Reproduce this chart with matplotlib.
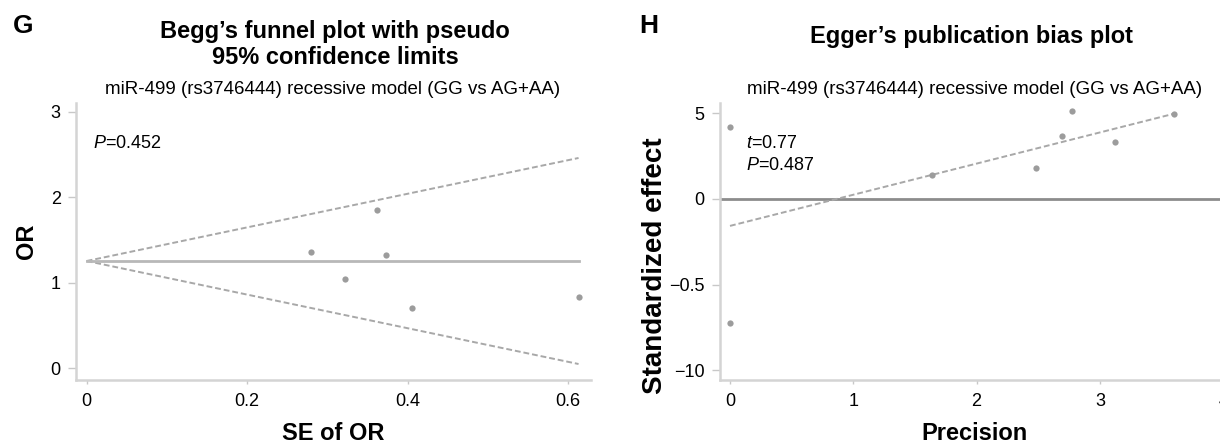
import matplotlib
matplotlib.use("Agg")
import matplotlib.pyplot as plt

plt.rcParams['font.family'] = ['Liberation Sans', 'DejaVu Sans']
plt.rcParams['mathtext.fontset'] = 'custom'
plt.rcParams['mathtext.rm'] = 'Liberation Sans'
plt.rcParams['mathtext.it'] = 'Liberation Sans:italic'

# Begg's funnel plot data
begg_se = [0.279, 0.322, 0.362, 0.373, 0.406, 0.613]
begg_or = [1.36, 1.04, 1.85, 1.33, 0.71, 0.83]
pooled_or = 1.255
limit_se = [0.0, 0.613]
upper_limit = [1.255, 2.46]
lower_limit = [1.255, 0.05]
begg_xticks = [0, 0.2, 0.4, 0.6]
begg_xlabels = ['0', '0.2', '0.4', '0.6']
begg_yticks = [0, 1, 2, 3]

# Egger's plot data
precision = [0.0, 0.0, 1.636, 2.479, 2.695, 2.771, 3.122, 3.601]
std_effect = [4.19, -7.26, 1.40, 1.81, 3.64, 5.14, 3.29, 4.97]
fit_x = [0.0, 3.601]
fit_y = [-1.58, 4.965]
egger_xticks = [0, 1, 2, 3, 4]
egger_yticks = [-10, -5, 0, 5]
egger_ylabels = ['\u221210', '\u22120.5', '0', '5']

subtitle = 'miR-499 (rs3746444) recessive model (GG vs AG+AA)'
W, H = 1220, 443

fig = plt.figure(figsize=(W / 100, H / 100), dpi=100)


def style_axes(ax):
    for s in ['top', 'right']:
        ax.spines[s].set_visible(False)
    for s in ['left', 'bottom']:
        ax.spines[s].set_color('#d4d4d4')
        ax.spines[s].set_linewidth(1.8)
    ax.tick_params(axis='y', length=6, width=1, color='#c8c8c8', pad=5, labelsize=13)
    ax.tick_params(axis='x', length=3, width=1, color='#c8c8c8', pad=6, labelsize=13)


# ---- G: Begg's funnel plot
ax1 = fig.add_axes([76 / W, 1 - 380 / H, 515 / W, 277 / H])
style_axes(ax1)
ax1.plot(limit_se, upper_limit, color='#a8a8a8', lw=1.4, ls=(0, (3, 1.5)))
ax1.plot(limit_se, lower_limit, color='#a8a8a8', lw=1.4, ls=(0, (3, 1.5)))
ax1.plot(limit_se, [pooled_or, pooled_or], color='#b8b8b8', lw=2)
ax1.plot(begg_se, begg_or, 'o', color='#9c9c9c', ms=4.5, mec='none')
ax1.set_xlim(-0.0133, 0.6285)
ax1.set_ylim(-0.137, 3.103)
ax1.set_xticks(begg_xticks)
ax1.set_xticklabels(begg_xlabels)
ax1.set_yticks(begg_yticks)
ax1.set_xlabel('SE of OR', fontsize=17, fontweight='bold', labelpad=9)
ax1.set_ylabel('OR', fontsize=17, fontweight='bold', labelpad=9)
ax1.text(93 / W, 1 - 143 / H, r'$P$=0.452', transform=fig.transFigure,
         fontsize=13, va='center', ha='left')

# ---- H: Egger's publication bias plot
ax2 = fig.add_axes([720 / W, 1 - 380 / H, 510 / W, 277 / H])
style_axes(ax2)
ax2.axhline(0, color='#8c8c8c', lw=2)
ax2.plot(fit_x, fit_y, color='#a8a8a8', lw=1.4, ls=(0, (3, 1.5)))
ax2.plot(precision, std_effect, 'o', color='#9c9c9c', ms=4.5, mec='none')
ax2.set_xlim(-0.081, 4.055)
ax2.set_ylim(-10.57, 5.59)
ax2.set_xticks(egger_xticks)
ax2.set_yticks(egger_yticks)
ax2.set_yticklabels(egger_ylabels)
ax2.set_xlabel('Precision', fontsize=17, fontweight='bold', labelpad=9)
ax2.set_ylabel('Standardized effect', fontsize=20, fontweight='bold')
ax2.yaxis.set_label_coords((668 - 720) / 510, (380 - 266) / 277)
ax2.text(746 / W, 1 - 143 / H, r'$t$=0.77', transform=fig.transFigure,
         fontsize=13, va='center', ha='left')
ax2.text(746 / W, 1 - 166 / H, r'$P$=0.487', transform=fig.transFigure,
         fontsize=13, va='center', ha='left')

# titles and panel letters
fig.text(23 / W, 1 - 26 / H, 'G', fontsize=19, fontweight='bold', ha='center', va='center')
fig.text(649 / W, 1 - 26 / H, 'H', fontsize=19, fontweight='bold', ha='center', va='center')
fig.text(335 / W, 1 - 38 / H, 'Begg\u2019s funnel plot with pseudo', fontsize=17,
         fontweight='bold', ha='center', va='baseline')
fig.text(335 / W, 1 - 64 / H, '95% confidence limits', fontsize=17,
         fontweight='bold', ha='center', va='baseline')
fig.text(972 / W, 1 - 43 / H, 'Egger\u2019s publication bias plot', fontsize=17,
         fontweight='bold', ha='center', va='baseline')
fig.text(333 / W, 1 - 94 / H, subtitle, fontsize=13.5, ha='center', va='baseline')
fig.text(975 / W, 1 - 94 / H, subtitle, fontsize=13.5, ha='center', va='baseline')

fig.savefig('out.png', dpi=100)
